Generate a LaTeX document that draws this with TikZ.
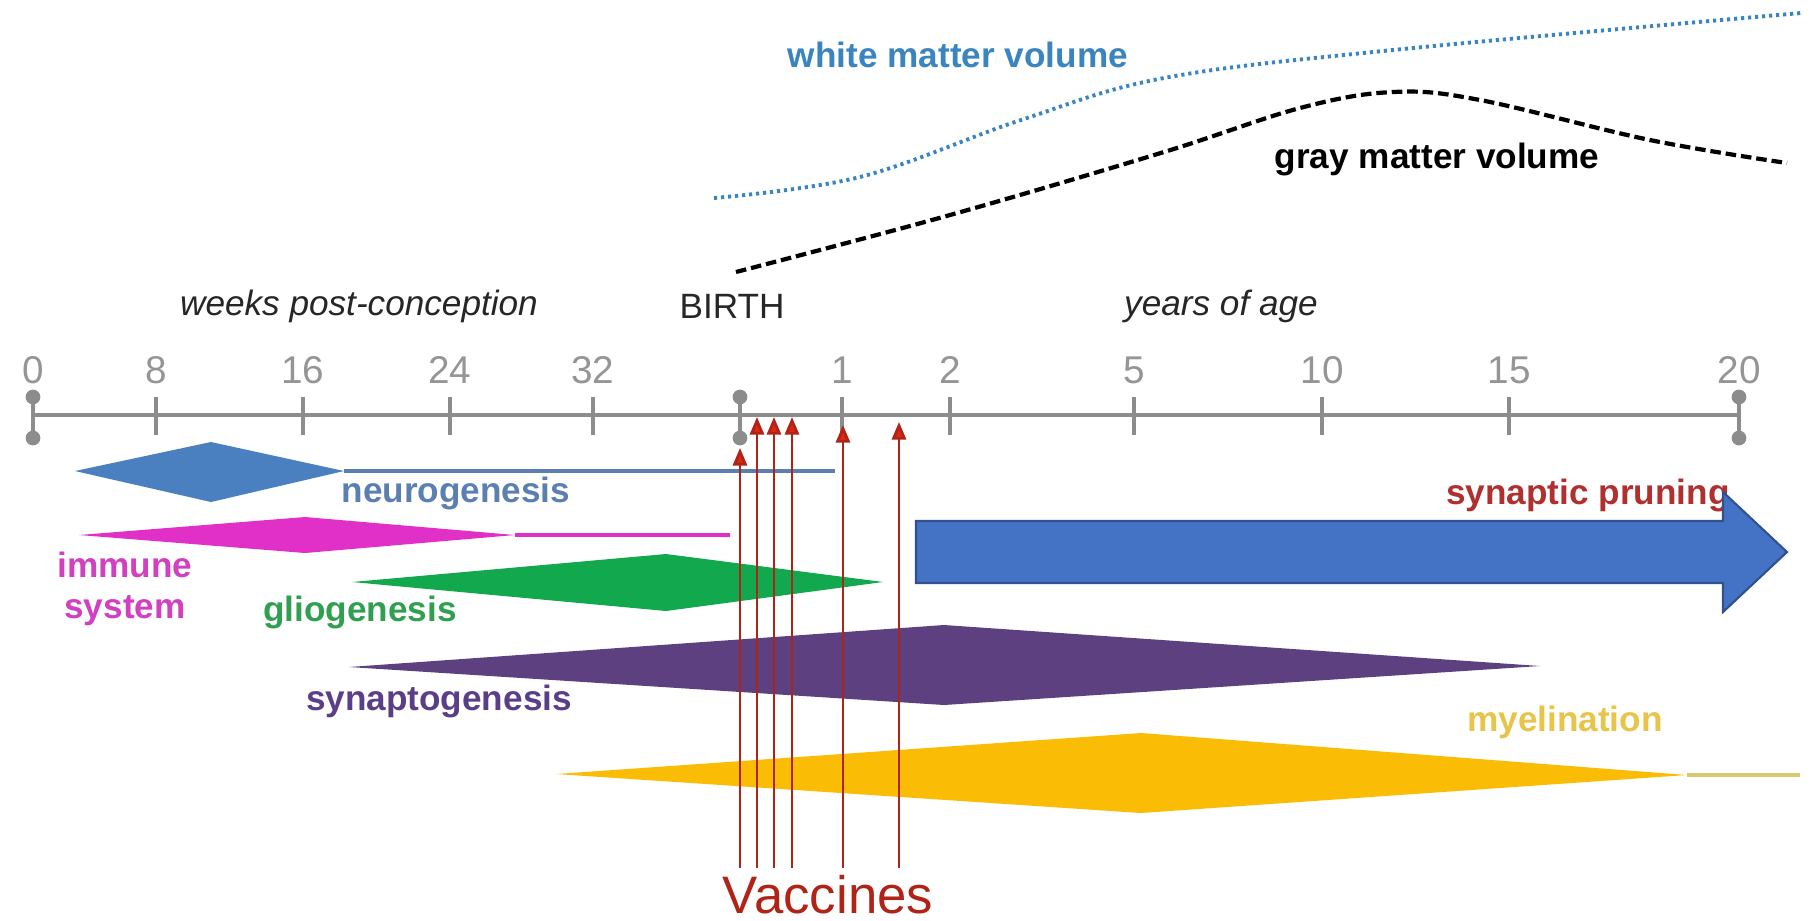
\documentclass[tikz,border=0pt]{standalone}
\usepackage{fontspec}
\setmainfont{Liberation Sans}
\usetikzlibrary{arrows.meta}

\definecolor{axisgray}{HTML}{8C8C8C}
\definecolor{numgray}{HTML}{959595}
\definecolor{neurob}{HTML}{4A7FC0}
\definecolor{neurot}{HTML}{5B7FB0}
\definecolor{immunem}{HTML}{E030C8}
\definecolor{immunet}{HTML}{D040C0}
\definecolor{gliog}{HTML}{12A84E}
\definecolor{gliot}{HTML}{30A050}
\definecolor{synp}{HTML}{5C4080}
\definecolor{synt}{HTML}{5A3E88}
\definecolor{myely}{HTML}{FBBC05}
\definecolor{myelt}{HTML}{E8C44A}
\definecolor{myeltail}{HTML}{D8C870}
\definecolor{prunet}{HTML}{B03030}
\definecolor{prunefill}{HTML}{4472C4}
\definecolor{pruneedge}{HTML}{2F528F}
\definecolor{whitem}{HTML}{3A84C0}
\definecolor{vaccred}{HTML}{B02418}
\definecolor{vacchead}{HTML}{E02810}

\tikzset{
  lbl/.style={font=\bfseries\fontsize{10}{12}\selectfont, inner sep=0pt},
  num/.style={font=\fontsize{11}{13}\selectfont, text=numgray, inner sep=0pt},
  hdr/.style={font=\fontsize{10}{12}\selectfont, text=black!85, inner sep=0pt},
  vacc/.style={draw=vaccred, line width=0.8pt,
    -{Triangle[length=5pt, width=4pt, fill=vacchead]}},
}

\begin{document}
\begin{tikzpicture}[x=0.01cm, y=-0.01cm]
\useasboundingbox (0,0) rectangle (1811,920);

%% ---- Volume curves ----
\draw[whitem, line width=1.1pt, dash pattern=on 0.9pt off 1.1pt]
  plot[smooth, tension=0.6] coordinates {(714,198) (860,177) (1021,120)
  (1164,78) (1393,50) (1801,13)};
\draw[black, line width=1.2pt, dash pattern=on 3pt off 1.4pt]
  plot[smooth, tension=0.6] coordinates {(736,272) (950,215) (1164,152)
  (1300,108) (1393,92) (1480,100) (1650,140) (1787,163)};
\node[lbl, text=whitem] (wm) at (958,55) {white matter volume};
\node[lbl, text=black] (gm) at (1437,159) {gray matter volume};

%% ---- Axis ----
\node[hdr, font=\itshape\fontsize{10}{12}\selectfont] (weeks) at (359,306) {weeks post-conception};
\node[hdr] (birth) at (732,306) {BIRTH};
\node[hdr, font=\itshape\fontsize{10}{12}\selectfont] (years) at (1221,306) {years of age};
\draw[axisgray, line width=1.2pt] (33,415) -- (1739,415);
\foreach \x in {156,303,450,593,842,950,1134,1322,1509}
  \draw[axisgray, line width=1pt] (\x,397) -- (\x,435);
\foreach \x in {33,740,1739} {
  \draw[axisgray, line width=1pt] (\x,397) -- (\x,438);
  \fill[axisgray] (\x,397) circle (2.1pt);
  \fill[axisgray] (\x,438) circle (2.1pt);
}
\foreach \x/\t in {33/0,156/8,303/16,450/24,593/32,842/1,950/2,1134/5,1322/10,1509/15,1739/20}
  \node[num] (n\t) at (\x,370) {\t};

%% ---- Processes ----
\fill[neurob] (75,471) -- (211,442) -- (344,471) -- (211,502) -- cycle;
\draw[neurot, line width=0.9pt] (344,471) -- (835,471);
\node[lbl, text=neurot] (neuro) at (456,493) {neurogenesis};

\fill[immunem] (79,535) -- (305,517) -- (515,535) -- (305,553) -- cycle;
\draw[immunem, line width=1.1pt] (515,535) -- (730,535);
\node[lbl, text=immunet, align=center, font=\bfseries\fontsize{10}{11.5}\selectfont]
  (immune) at (125,589) {immune\\system};

\fill[gliog] (352,582) -- (666,554) -- (883,582) -- (666,611) -- cycle;
\node[lbl, text=gliot] (glio) at (360,612) {gliogenesis};

\fill[synp] (349,667) -- (944,625) -- (1540,666) -- (944,705) -- cycle;
\node[lbl, text=synt] (synapto) at (439,701) {synaptogenesis};

\fill[myely] (556,774) -- (1141,733) -- (1687,775) -- (1141,813) -- cycle;
\draw[myeltail, line width=1.1pt] (1687,775) -- (1800,775);
\node[lbl, text=myelt] (myelin) at (1565,722) {myelination};

%% ---- Synaptic pruning ----
\node[lbl, text=prunet] (prune) at (1588,495) {synaptic pruning};
\filldraw[fill=prunefill, draw=pruneedge, line width=0.6pt]
  (916,521) -- (1723,521) -- (1723,492) -- (1787,552) -- (1723,612)
  -- (1723,583) -- (916,583) -- cycle;

%% ---- Vaccines ----
\node[font=\fontsize{15}{18}\selectfont, text=vaccred, inner sep=0pt] (vacc) at (828,895) {Vaccines};
\foreach \i/\x/\y in {1/740/448, 2/757/417, 3/774/417, 4/792/417, 5/843/425, 6/899/422} {
  \coordinate (vb\i) at (\x,868);
  \coordinate (vt\i) at (\x,\y);
  \draw[vacc] (vb\i) -- (vt\i);
}

\end{tikzpicture}
\end{document}
